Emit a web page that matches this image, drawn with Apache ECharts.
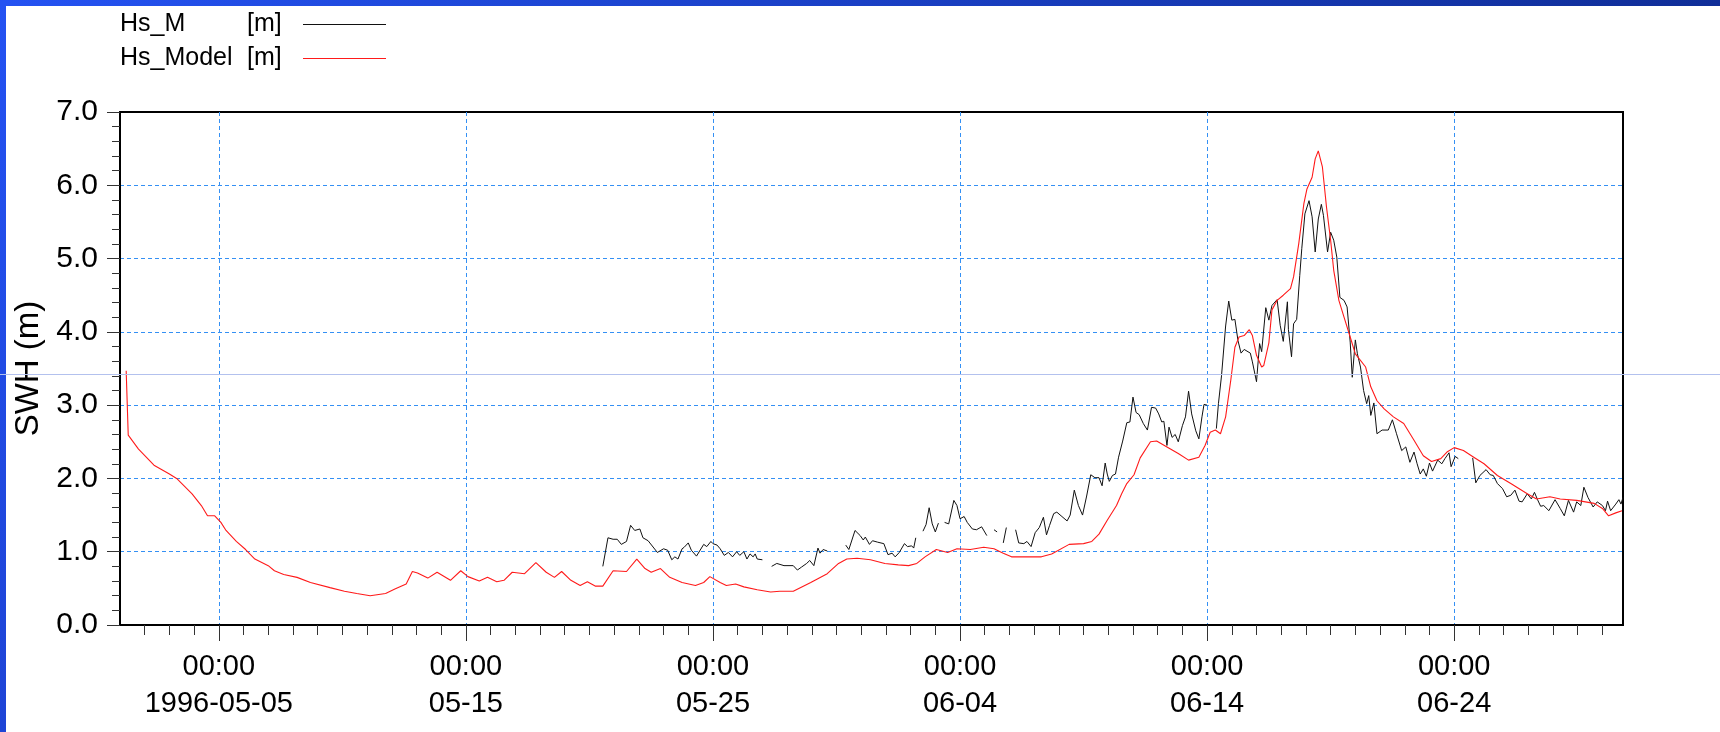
<!DOCTYPE html>
<html>
<head>
<meta charset="utf-8">
<script src="https://cdn.jsdelivr.net/npm/echarts@6/dist/echarts.min.js"></script>
<style>
  html, body { margin: 0; padding: 0; background: #ffffff; }
  #chart { width: 1720px; height: 732px; }
</style>
</head>
<body>
<div id="chart"></div>
<script>
// Significant wave height: buoy measurements vs. model, May–June 1996
const FONT = '"Liberation Sans", Arial, sans-serif';
const START = Date.UTC(1996, 4, 1);       // 1996-05-01 00:00 UTC, time origin
const HOUR = 3600 * 1000;
const END_HOUR = 1460;                     // end of the displayed window

// Labelled time ticks (every 10 days) and value-axis ticks
const xTickDates = ['1996-05-05', '1996-05-15', '1996-05-25', '1996-06-04', '1996-06-14', '1996-06-24'];
const yTickValues = [0, 1, 2, 3, 4, 5, 6, 7];

// Model series: hours since 1996-05-01 00:00 and Hs [m]
const modelHour = [6, 8, 18, 33, 48, 55, 70, 79, 85, 92,
  98, 103, 113, 122, 131, 144, 150, 159, 172, 185,
  204, 218, 230, 243, 258, 267, 278, 284, 289, 299,
  308, 321, 331, 338, 349, 357, 366, 373, 381, 393,
  404, 414, 422, 429, 438, 447, 454, 462, 469, 479,
  492, 502, 510, 516, 525, 534, 546, 559, 567, 573,
  583, 589, 598, 606, 619, 632, 641, 654, 671, 687,
  698, 706, 716, 729, 743, 756, 766, 774, 782, 793,
  804, 813, 826, 839, 849, 858, 866, 895, 905, 922,
  936, 944, 951, 959, 968, 973, 978, 985, 991, 1001,
  1007, 1017, 1028, 1038, 1048, 1054, 1059, 1064, 1069, 1074,
  1079, 1083, 1087, 1092, 1097, 1100, 1104, 1109, 1111, 1116,
  1119, 1124, 1130, 1137, 1140, 1145, 1150, 1153, 1158, 1161,
  1164, 1168, 1172, 1176, 1179, 1184, 1189, 1195, 1200, 1210,
  1215, 1221, 1228, 1237, 1247, 1257, 1266, 1274, 1283, 1289,
  1296, 1305, 1315, 1325, 1338, 1351, 1367, 1376, 1389, 1399,
  1415, 1432, 1440, 1446, 1453, 1459];
const modelHs = [3.47, 2.59, 2.40, 2.18, 2.06, 2.00, 1.79, 1.63, 1.49, 1.49,
  1.40, 1.29, 1.14, 1.03, 0.90, 0.81, 0.74, 0.69, 0.65, 0.58,
  0.51, 0.46, 0.43, 0.40, 0.43, 0.49, 0.56, 0.73, 0.71, 0.64,
  0.72, 0.61, 0.74, 0.66, 0.60, 0.65, 0.59, 0.61, 0.72, 0.70,
  0.85, 0.72, 0.65, 0.73, 0.61, 0.54, 0.59, 0.53, 0.53, 0.74,
  0.73, 0.90, 0.77, 0.72, 0.77, 0.65, 0.58, 0.54, 0.58, 0.66,
  0.58, 0.54, 0.56, 0.52, 0.48, 0.45, 0.46, 0.46, 0.58, 0.70,
  0.84, 0.90, 0.91, 0.89, 0.84, 0.82, 0.81, 0.84, 0.93, 1.03,
  0.99, 1.04, 1.03, 1.06, 1.04, 0.98, 0.93, 0.93, 0.97, 1.10,
  1.11, 1.14, 1.24, 1.43, 1.63, 1.79, 1.93, 2.05, 2.28, 2.50,
  2.51, 2.43, 2.34, 2.25, 2.29, 2.45, 2.63, 2.66, 2.61, 2.84,
  3.34, 3.79, 3.93, 3.95, 4.03, 3.95, 3.68, 3.52, 3.54, 3.85,
  4.30, 4.43, 4.50, 4.59, 4.75, 5.20, 5.75, 5.95, 6.11, 6.36,
  6.47, 6.25, 5.70, 5.25, 4.84, 4.43, 4.20, 3.93, 3.70, 3.52,
  3.25, 3.06, 2.95, 2.84, 2.75, 2.52, 2.31, 2.23, 2.27, 2.36,
  2.42, 2.38, 2.29, 2.20, 2.04, 1.93, 1.79, 1.72, 1.75, 1.72,
  1.70, 1.66, 1.59, 1.49, 1.53, 1.56];

// Measured series, one sub-array per continuous record (gaps between them)
const measHour = [
  [469, 474, 479, 483, 487, 492, 496, 500, 505, 508, 513, 522, 528, 532, 536, 539, 542, 546, 548, 552,
   555, 560, 567, 570, 574, 576, 580, 583, 587, 591, 595, 599, 602, 606, 609, 612, 615, 617, 619, 624],
  [633, 638, 645, 654, 658, 662, 667, 670, 674, 678, 680, 683, 687],
  [705, 708, 714, 719, 722, 724, 728, 731, 736, 742, 746, 750, 753, 757, 762, 765, 769, 771, 773],
  [780, 783, 786, 789, 792, 795],
  [801, 805, 810, 813, 816, 820, 823, 828, 832, 837, 842],
  [849, 852],
  [858, 861],
  [870, 873, 878, 881, 885, 889, 893, 897, 900, 903, 907, 910, 915, 920, 923, 927, 931, 935, 939, 943,
   947, 951, 954, 957, 959, 961, 964, 967, 970, 974, 978, 981, 984, 987, 990, 994, 998, 1002, 1006, 1009,
   1012, 1014, 1017, 1019, 1022, 1025, 1028, 1032, 1035, 1038, 1041, 1045, 1048, 1051, 1053, 1056],
  [1065, 1067, 1070, 1074, 1077, 1080, 1083, 1086, 1089, 1092, 1098, 1100, 1104, 1107, 1109, 1113, 1116, 1119, 1124, 1127,
   1130, 1134, 1135, 1138, 1140, 1143, 1146, 1148, 1151, 1155, 1158, 1161, 1164, 1167, 1169, 1173, 1176, 1179, 1182, 1185,
   1189, 1192, 1195, 1197, 1200, 1202, 1205, 1208, 1211, 1213, 1215, 1218, 1221, 1226, 1232, 1236, 1240, 1245, 1249, 1253,
   1257, 1260, 1263, 1266, 1269, 1272, 1275, 1280, 1284, 1287, 1291, 1293, 1297, 1300],
  [1314, 1317, 1321, 1327, 1331, 1334, 1338, 1343, 1347, 1351, 1355, 1359, 1362, 1367, 1371, 1374, 1377, 1380, 1383, 1388,
   1394, 1399, 1403, 1407, 1412, 1415, 1419, 1422, 1426, 1431, 1435, 1440, 1443, 1445, 1448, 1453, 1456, 1458, 1460]
];
const measHs = [
  [0.80, 1.19, 1.17, 1.17, 1.10, 1.14, 1.36, 1.29, 1.31, 1.19, 1.15, 0.99, 1.04, 1.02, 0.89, 0.93, 0.90, 1.04, 1.06, 1.12,
   1.02, 0.94, 1.10, 1.07, 1.14, 1.11, 1.09, 1.04, 0.95, 0.99, 0.93, 1.00, 0.95, 1.00, 0.90, 0.97, 0.93, 0.97, 0.90, 0.89],
  [0.80, 0.84, 0.81, 0.81, 0.75, 0.79, 0.84, 0.88, 0.81, 1.05, 0.98, 1.03, 1.01],
  [1.09, 1.03, 1.29, 1.22, 1.16, 1.20, 1.10, 1.15, 1.13, 1.11, 0.96, 0.98, 0.93, 0.99, 1.11, 1.07, 1.08, 1.05, 1.19],
  [1.28, 1.37, 1.60, 1.38, 1.27, 1.39],
  [1.40, 1.38, 1.70, 1.63, 1.45, 1.48, 1.40, 1.31, 1.30, 1.34, 1.22],
  [1.30, 1.27],
  [1.12, 1.33],
  [1.30, 1.12, 1.11, 1.14, 1.07, 1.26, 1.33, 1.47, 1.23, 1.36, 1.52, 1.54, 1.48, 1.42, 1.50, 1.84, 1.63, 1.50, 1.76, 2.05,
   2.01, 2.01, 1.90, 2.21, 2.06, 1.96, 2.04, 2.06, 2.29, 2.51, 2.76, 2.77, 3.11, 2.90, 2.87, 2.75, 2.66, 2.97, 2.96, 2.88,
   2.77, 2.78, 2.45, 2.70, 2.56, 2.60, 2.50, 2.72, 2.84, 3.19, 2.88, 2.65, 2.54, 2.84, 3.01, 3.00],
  [2.68, 3.02, 3.40, 4.08, 4.42, 4.16, 4.17, 3.88, 3.71, 3.76, 3.71, 3.59, 3.32, 3.84, 3.73, 4.33, 4.16, 4.36, 4.44, 4.09,
   3.87, 4.41, 4.03, 3.66, 4.11, 4.17, 4.77, 5.14, 5.61, 5.79, 5.57, 5.09, 5.54, 5.74, 5.59, 5.09, 5.36, 5.25, 5.02, 4.47,
   4.43, 4.34, 3.86, 3.38, 3.89, 3.70, 3.52, 3.20, 3.02, 3.13, 2.86, 3.03, 2.61, 2.66, 2.66, 2.80, 2.61, 2.38, 2.43, 2.22,
   2.36, 2.20, 2.06, 2.13, 2.03, 2.21, 2.10, 2.25, 2.20, 2.27, 2.35, 2.16, 2.30, 2.27],
  [2.28, 1.94, 2.04, 2.12, 2.05, 2.04, 1.93, 1.86, 1.75, 1.77, 1.84, 1.69, 1.68, 1.79, 1.72, 1.81, 1.71, 1.62, 1.63, 1.56,
   1.71, 1.59, 1.49, 1.70, 1.54, 1.68, 1.63, 1.88, 1.74, 1.61, 1.68, 1.63, 1.56, 1.69, 1.56, 1.65, 1.71, 1.65, 1.74]
];

// ---- build series data -------------------------------------------------
const toTime = h => START + h * HOUR;
const modelData = modelHour.map((h, i) => [toTime(h), modelHs[i]]);

const measData = [];
measHour.forEach((seg, s) => {
  if (s > 0) {
    // break the line between records
    const prevEnd = measHour[s - 1][measHour[s - 1].length - 1];
    measData.push([toTime((prevEnd + seg[0]) / 2), null]);
  }
  seg.forEach((h, i) => measData.push([toTime(h), measHs[s][i]]));
});

// tick positions on the time axis
const majorTicks = xTickDates.map(d => Date.parse(d + 'T00:00:00Z'));
const dayTicks = [];
for (let t = START + 24 * HOUR; t < toTime(END_HOUR); t += 24 * HOUR) dayTicks.push(t);

const pad2 = n => String(n).padStart(2, '0');
function timeLabel(v) {
  const d = new Date(v);
  const hhmm = pad2(d.getUTCHours()) + ':' + pad2(d.getUTCMinutes());
  const md = pad2(d.getUTCMonth() + 1) + '-' + pad2(d.getUTCDate());
  const date = v === majorTicks[0] ? d.getUTCFullYear() + '-' + md : md;
  return hhmm + '\n' + date;
}

const gridColor = '#3490f4';

const chart = echarts.init(document.getElementById('chart'), null, { renderer: 'canvas' });
chart.setOption({
  animation: false,
  backgroundColor: '#ffffff',
  textStyle: { fontFamily: FONT },
  grid: {
    left: 120, right: 97, top: 112, bottom: 107,
    show: true, borderColor: '#000', borderWidth: 2, backgroundColor: 'transparent'
  },
  legend: {
    data: ['Hs_M', 'Hs_Model'],
    orient: 'vertical', left: 120, top: 12, padding: 0, itemGap: 9,
    align: 'right', icon: 'rect', itemWidth: 83, itemHeight: 1,
    selectedMode: false,
    formatter: name => '{n|' + name + '}{u|[m]}',
    textStyle: {
      fontFamily: FONT, fontSize: 25, color: '#000',
      rich: {
        n: { width: 127, align: 'left', fontSize: 25, lineHeight: 30, fontFamily: FONT, color: '#000' },
        u: { width: 51, align: 'left', fontSize: 25, lineHeight: 30, fontFamily: FONT, color: '#000' }
      }
    }
  },
  xAxis: [
    {
      type: 'value', position: 'bottom',
      min: START, max: toTime(END_HOUR),
      axisLine: { show: true, onZero: false, lineStyle: { color: '#000', width: 2 } },
      axisTick: { show: true, customValues: majorTicks, length: 16, lineStyle: { color: '#333', width: 1 } },
      axisLabel: {
        customValues: majorTicks, formatter: timeLabel,
        fontFamily: FONT, fontSize: 29, lineHeight: 37, margin: 23, color: '#000'
      },
      splitLine: { show: true, lineStyle: { color: gridColor, width: 1, type: [4, 3] } }
    },
    {
      // daily minor ticks
      type: 'value', position: 'bottom',
      min: START, max: toTime(END_HOUR),
      axisLine: { show: false, onZero: false },
      axisTick: { show: true, customValues: dayTicks, length: 10, lineStyle: { color: '#333', width: 1 } },
      axisLabel: { show: false },
      splitLine: { show: false }
    }
  ],
  yAxis: {
    type: 'value', min: yTickValues[0], max: yTickValues[yTickValues.length - 1], interval: 1,
    name: 'SWH (m)', nameLocation: 'middle', nameGap: 64,
    nameTextStyle: { fontFamily: FONT, fontSize: 33, color: '#000' },
    axisLine: { show: true, lineStyle: { color: '#000', width: 2 } },
    axisTick: { show: true, length: 13, lineStyle: { color: '#333', width: 1 } },
    minorTick: { show: true, splitNumber: 5, length: 8, lineStyle: { color: '#333', width: 1 } },
    axisLabel: { formatter: v => v.toFixed(1), fontFamily: FONT, fontSize: 30, margin: 22, color: '#000' },
    splitLine: { show: true, showMinLine: false, showMaxLine: false,
      lineStyle: { color: gridColor, width: 1, type: [4, 3] } }
  },
  series: [
    {
      name: 'Hs_M', type: 'line', xAxisIndex: 0, data: measData,
      symbol: 'none', showSymbol: false, connectNulls: false,
      lineStyle: { color: '#111', width: 1 }, itemStyle: { color: '#111' }
    },
    {
      name: 'Hs_Model', type: 'line', xAxisIndex: 0, data: modelData,
      symbol: 'none', showSymbol: false,
      lineStyle: { color: '#ff1a1a', width: 1.1 }, itemStyle: { color: '#ff1a1a' }
    }
  ],
  graphic: [
    { type: 'rect', left: 0, top: 0, silent: true, z: 100,
      shape: { width: 1720, height: 6 },
      style: { fill: new echarts.graphic.LinearGradient(0, 0, 1, 0,
        [{ offset: 0, color: '#2452f2' }, { offset: 1, color: '#102e98' }]) } },
    { type: 'rect', left: 0, top: 0, silent: true, z: 100,
      shape: { width: 6, height: 732 },
      style: { fill: new echarts.graphic.LinearGradient(0, 0, 0, 1,
        [{ offset: 0, color: '#2452f2' }, { offset: 1, color: '#1e44d6' }]) } },
    { type: 'line', silent: true, z: 100,
      shape: { x1: 0, y1: 374.5, x2: 1720, y2: 374.5 },
      style: { stroke: '#b3c1ee', lineWidth: 1 } }
  ]
});
</script>
</body>
</html>
